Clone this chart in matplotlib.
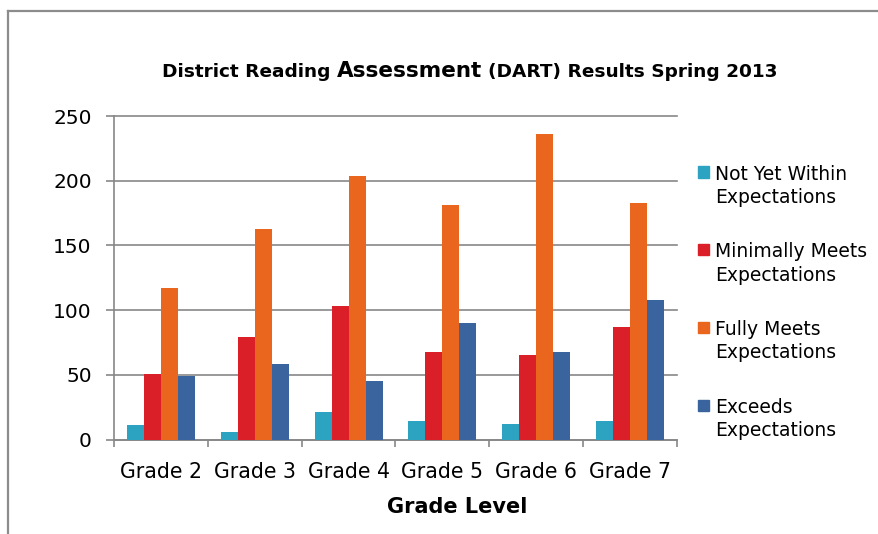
import numpy as np
import matplotlib
matplotlib.use('Agg')
import matplotlib.pyplot as plt
from matplotlib.patches import Rectangle
from matplotlib.lines import Line2D

plt.rcParams['font.family'] = ['DejaVu Sans']

# data
grades = ['Grade 2', 'Grade 3', 'Grade 4', 'Grade 5', 'Grade 6', 'Grade 7']
not_yet = [11, 6, 21, 14, 12, 14]
minimally = [51, 79, 103, 68, 65, 87]
fully = [117, 163, 204, 181, 236, 183]
exceeds = [49, 58, 45, 90, 68, 108]

labels = ['Not Yet Within\nExpectations', 'Minimally Meets\nExpectations',
          'Fully Meets\nExpectations', 'Exceeds\nExpectations']
colors = ['#2CA3C0', '#DA1F28', '#EA651D', '#3A649D']
series = [not_yet, minimally, fully, exceeds]

W, H = 879, 534
fig = plt.figure(figsize=(W / 100, H / 100), dpi=100)

def fx(px):
    return px / W

def fy(py):
    return 1 - py / H

# outer chart frame (cropped)
grey = '#8C8C8C'
fig.add_artist(Line2D([fx(8), 1], [fy(10.5), fy(10.5)], color=grey, lw=1.6, transform=fig.transFigure))
fig.add_artist(Line2D([fx(8), fx(8)], [fy(10.5), 0], color=grey, lw=1.6, transform=fig.transFigure))

ax = fig.add_axes([fx(114), fy(439.5), fx(677) - fx(114), fy(116) - fy(439.5)])

x = np.arange(len(grades))
w = 0.181
for i, (vals, c) in enumerate(zip(series, colors)):
    ax.bar(x + (i - 1.5) * w, vals, width=w, color=c, zorder=3)

ax.set_xlim(-0.5, len(grades) - 0.5)
ax.set_ylim(0, 250)
ax.set_yticks(range(0, 251, 50))
ax.yaxis.grid(True, color='#878787', lw=1.2, zorder=0)
ax.set_axisbelow(True)
for gl in ax.get_ygridlines():
    gl.set_clip_on(False)

for s in ['top', 'right']:
    ax.spines[s].set_visible(False)
for s in ['left', 'bottom']:
    ax.spines[s].set_color('#878787')
    ax.spines[s].set_linewidth(1.2)

ax.set_xticks(x)
ax.set_xticklabels(grades, fontsize=14.8)
ax.set_xticks(np.arange(-0.5, len(grades)), minor=True)
ax.tick_params(axis='x', which='major', length=0, pad=16)
ax.tick_params(axis='x', which='minor', length=5, width=1.2, color='#878787', direction='out')
ax.tick_params(axis='y', length=6, width=1.2, color='#878787', labelsize=14.5, pad=10)

fig.text(fx(457), fy(507), 'Grade Level', fontsize=15, fontweight='bold', ha='center', va='center')

# legend drawn by hand so the square sits on the first line
for i, (lab, c) in enumerate(zip(labels, colors)):
    yc = 172 + i * 77.7
    fig.add_artist(Rectangle((fx(698), fy(yc + 5.5)), fx(11), 11 / H, color=c, transform=fig.transFigure))
    for j, line in enumerate(lab.split('\n')):
        fig.text(fx(715), fy(yc + j * 23.5), line, fontsize=13.5, va='center_baseline', ha='left')

# title with the larger "Assessment"
parts = [('District Reading', 13.3), ('Assessment', 15.5), ('(DART) Results Spring 2013', 13.3)]
renderer = fig.canvas.get_renderer()
texts = []
for t, sz in parts:
    texts.append(fig.text(0, fy(70), t, fontsize=sz, fontweight='bold', va='baseline', ha='left'))
widths = [tx.get_window_extent(renderer).width for tx in texts]
gap = 6
total = sum(widths) + gap * (len(widths) - 1)
xpos = 470 - total / 2
for tx, wd in zip(texts, widths):
    tx.set_position((fx(xpos), fy(77)))
    xpos += wd + gap

fig.savefig('out.png', dpi=100)
